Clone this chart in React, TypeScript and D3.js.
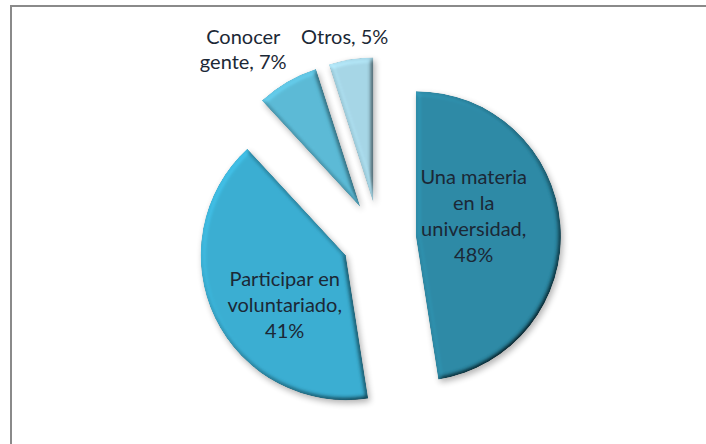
import { useRef, useEffect } from "react";
import * as d3 from "d3";

const categories = ["Una materia en la universidad", "Participar en voluntariado", "Conocer gente", "Otros"];
const values = [48, 41, 7, 5];
// label lines as shown on the chart
const labelLines = [
  ["Una materia", "en la", "universidad,", "48%"],
  ["Participar en", "voluntariado,", "41%"],
  ["Conocer", "gente, 7%"],
  ["Otros, 5%"],
];
const insideLabel = [true, true, false, false];
const colors = ["#2d8aa6", "#3aaed2", "#5bbad6", "#a6d6e6"];

const W = 706;
const H = 444;

const App = () => {
  const svgRef = useRef<SVGSVGElement | null>(null);

  useEffect(() => {
    const svg = d3.select(svgRef.current);
    svg.selectAll("*").remove();

    const cx = 379;
    const cy = 239;
    const r = 145;
    const explode = 37;

    const defs = svg.append("defs");
    const f = defs.append("filter").attr("id", "bevel").attr("x", "-10%").attr("y", "-10%").attr("width", "120%").attr("height", "120%");
    f.append("feGaussianBlur").attr("in", "SourceAlpha").attr("stdDeviation", 2.5).attr("result", "blur");
    f.append("feDiffuseLighting")
      .attr("in", "blur")
      .attr("surfaceScale", 4)
      .attr("diffuseConstant", 1)
      .attr("lighting-color", "white")
      .attr("result", "light")
      .append("feDistantLight")
      .attr("azimuth", 225)
      .attr("elevation", 55);
    f.append("feComposite")
      .attr("in", "SourceGraphic")
      .attr("in2", "light")
      .attr("operator", "arithmetic")
      .attr("k1", 1 / Math.sin((55 * Math.PI) / 180))
      .attr("k2", 0)
      .attr("k3", 0)
      .attr("k4", 0)
      .attr("result", "lit");
    f.append("feComposite").attr("in", "lit").attr("in2", "SourceAlpha").attr("operator", "in");

    const sh = defs.append("filter").attr("id", "shadow").attr("x", "-20%").attr("y", "-20%").attr("width", "140%").attr("height", "140%");
    sh.append("feGaussianBlur").attr("in", "SourceAlpha").attr("stdDeviation", 3).attr("result", "b");
    sh.append("feOffset").attr("in", "b").attr("dx", 2).attr("dy", 3).attr("result", "o");
    sh.append("feComponentTransfer").attr("in", "o").append("feFuncA").attr("type", "linear").attr("slope", 0.3);

    // chart border
    svg
      .append("rect")
      .attr("x", 11)
      .attr("y", 6)
      .attr("width", W)
      .attr("height", H)
      .attr("fill", "white")
      .attr("stroke", "#8a8a8a")
      .attr("stroke-width", 2);

    const pie = d3.pie<number>().sort(null).value((d) => d)(values);
    const arc = d3.arc<d3.PieArcDatum<number>>().innerRadius(0).outerRadius(r);

    const g = svg.append("g").attr("transform", `translate(${cx},${cy})`);

    const slices = g
      .selectAll("g.slice")
      .data(pie)
      .enter()
      .append("g")
      .attr("class", "slice")
      .attr("transform", (d) => {
        const a = (d.startAngle + d.endAngle) / 2;
        return `translate(${Math.sin(a) * explode},${-Math.cos(a) * explode})`;
      });

    slices.append("path").attr("d", arc).attr("fill", "#000").attr("filter", "url(#shadow)");
    slices
      .append("path")
      .attr("d", arc)
      .attr("fill", (d, i) => colors[i])
      .attr("filter", "url(#bevel)");

    const fontSize = 20;
    const lh = 26;
    pie.forEach((d, i) => {
      const a = (d.startAngle + d.endAngle) / 2;
      const dx = Math.sin(a);
      const dy = -Math.cos(a);
      const ax = dx * explode;
      const ay = dy * explode;
      const lines = labelLines[i];
      let x: number;
      let yTop: number;
      if (insideLabel[i]) {
        // best-fit style placement inside the slice
        const la = a - 0.24;
        const dist = r * (0.42 + 0.14 * Math.max(0, -dx));
        x = ax + Math.sin(la) * dist;
        const yc = ay - Math.cos(la) * dist;
        yTop = yc + 6 - ((lines.length - 1) * lh) / 2;
      } else {
        const px = ax + dx * (r + 18);
        const py = ay + dy * (r + 18);
        x = px + dx * Math.abs(dx) * 137;
        yTop = py + 3 - (lines.length - 1) * 25;
      }
      const t = g
        .append("text")
        .attr("text-anchor", "middle")
        .attr("font-family", "Lato, 'Open Sans', sans-serif")
        .attr("font-size", fontSize)
        .attr("fill", "#1b2836")
        .attr("aria-label", categories[i]);
      lines.forEach((ln, j) => {
        t.append("tspan")
          .attr("x", x)
          .attr("y", yTop + j * (insideLabel[i] ? lh : 25))
          .text(ln);
      });
    });
  }, []);

  return (
    <svg
      ref={svgRef}
      width={W}
      height={H}
      style={{ position: "absolute", left: 0, top: 0, background: "white" }}
    />
  );
};

export default App;
